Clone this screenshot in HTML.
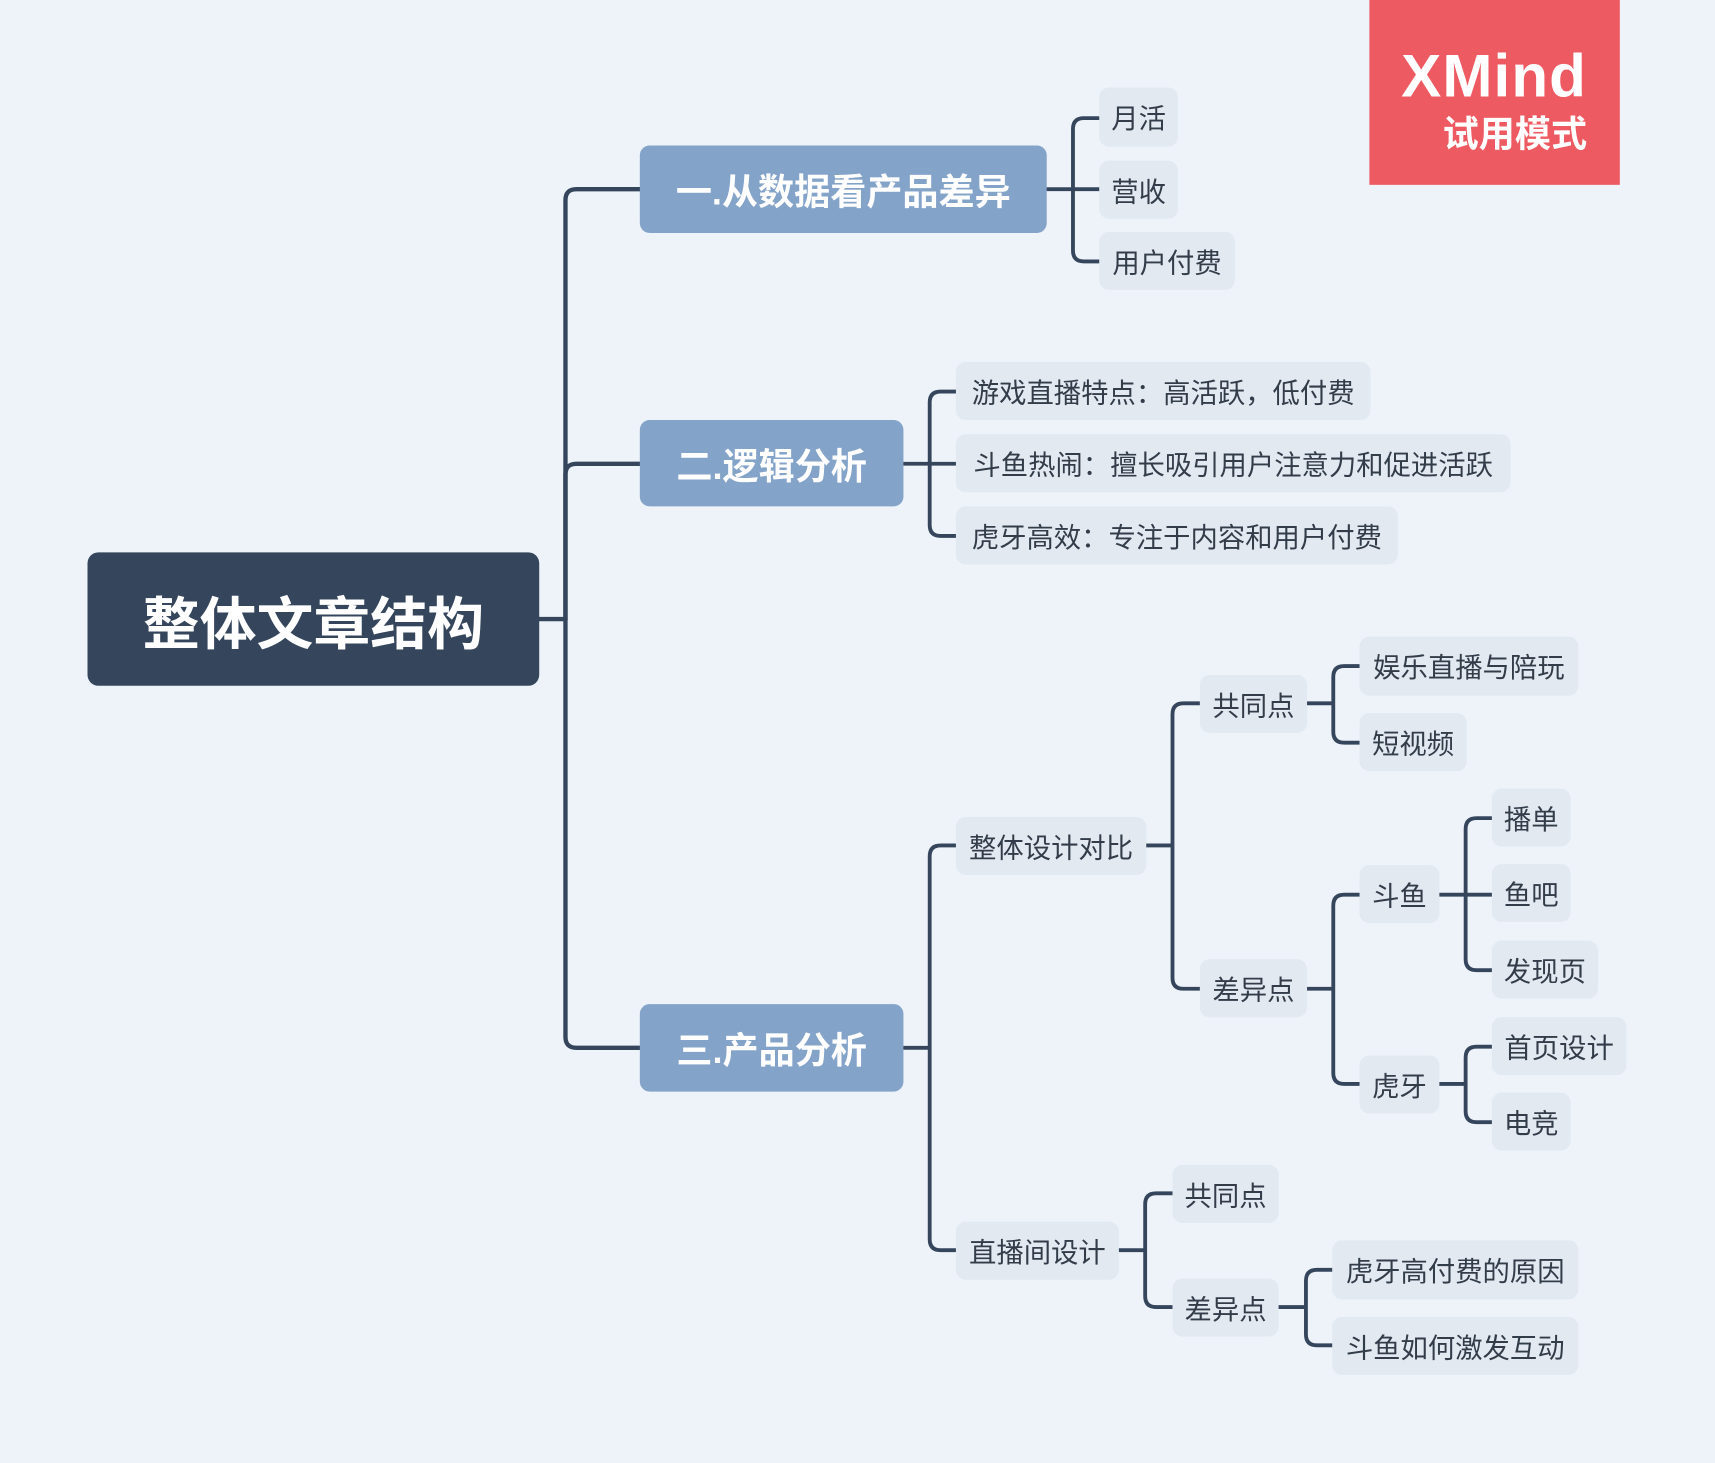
<!DOCTYPE html>
<html><head><meta charset="utf-8"><style>
html,body{margin:0;padding:0;background:#edf3f9;}
#c{position:absolute;left:0;top:0;width:1568px;height:1338px;transform:scale(1.09375);transform-origin:0 0;font-family:"Liberation Sans","Noto Sans CJK SC",sans-serif;}
.n{position:absolute;display:flex;align-items:center;justify-content:center;box-sizing:border-box;white-space:nowrap;}
.s{background:#e2e9f1;border-radius:9px;color:#333d4a;font-size:25px;}
.m{background:#84a3c9;border-radius:9px;color:#fff;font-size:33px;font-weight:bold;}
svg{position:absolute;left:0;top:0;}
</style></head><body><div id="c">
<svg width="1568" height="1338" fill="none" stroke="#35465c" stroke-width="3.5" stroke-linecap="round">
<g stroke-width="4">
<path d="M493,566 H517"/>
<path d="M517,566 V183 Q517,173 527,173 H585"/>
<path d="M517,566 V434 Q517,424 527,424 H585"/>
<path d="M517,566 V948 Q517,958 527,958 H585"/>
</g>
<path d="M957,173 H1005 M981,173 V118 Q981,108 991,108 H1005 M981,173 V229 Q981,239 991,239 H1005"/>
<path d="M826,424 H874 M850,424 V368 Q850,358 860,358 H874 M850,424 V480 Q850,490 860,490 H874"/>
<path d="M826,958 H850 M850,958 V783 Q850,773 860,773 H874 M850,958 V1133 Q850,1143 860,1143 H874"/>
<path d="M1048,773 H1072 M1072,773 V653 Q1072,643 1082,643 H1097 M1072,773 V894 Q1072,904 1082,904 H1097"/>
<path d="M1195,643 H1219 M1219,643 V619 Q1219,609 1229,609 H1243 M1219,643 V669 Q1219,679 1229,679 H1243"/>
<path d="M1195,904 H1219 M1219,904 V828 Q1219,818 1229,818 H1243 M1219,904 V981 Q1219,991 1229,991 H1243"/>
<path d="M1316,818 H1364 M1340,818 V758 Q1340,748 1350,748 H1364 M1340,818 V877 Q1340,887 1350,887 H1364"/>
<path d="M1316,991 H1340 M1340,991 V967 Q1340,957 1350,957 H1364 M1340,991 V1016 Q1340,1026 1350,1026 H1364"/>
<path d="M1023,1143 H1047 M1047,1143 V1101 Q1047,1091 1057,1091 H1072 M1047,1143 V1185 Q1047,1195 1057,1195 H1072"/>
<path d="M1169,1195 H1194 M1194,1195 V1171 Q1194,1161 1204,1161 H1218 M1194,1195 V1220 Q1194,1230 1204,1230 H1218"/>
</svg>

<div style="position:absolute;left:1252px;top:0;width:229px;height:169px;background:#ee5a62;color:#fff;">
<div style="position:absolute;right:30px;top:38px;font-size:55px;font-weight:bold;line-height:62px;letter-spacing:1px;">XMind</div>
<div style="position:absolute;right:30px;top:103px;font-size:33px;font-weight:bold;line-height:40px;">试用模式</div>
</div>

<div class="n" style="left:80px;top:505px;width:413px;height:122px;background:#35465c;border-radius:10px;color:#fff;font-size:52px;font-weight:bold;">整体文章结构</div>

<div class="n m" style="left:585px;top:133px;width:372px;height:80px;">一.从数据看产品差异</div>
<div class="n m" style="left:585px;top:384px;width:241px;height:79px;">二.逻辑分析</div>
<div class="n m" style="left:585px;top:918px;width:241px;height:80px;">三.产品分析</div>

<div class="n s" style="left:1005px;top:80px;width:72px;height:54px;">月活</div>
<div class="n s" style="left:1005px;top:147px;width:72px;height:53px;">营收</div>
<div class="n s" style="left:1005px;top:212px;width:124px;height:53px;">用户付费</div>

<div class="n s" style="left:874px;top:331px;width:379px;height:53px;">游戏直播特点：高活跃，低付费</div>
<div class="n s" style="left:874px;top:397px;width:507px;height:53px;">斗鱼热闹：擅长吸引用户注意力和促进活跃</div>
<div class="n s" style="left:874px;top:463px;width:404px;height:53px;">虎牙高效：专注于内容和用户付费</div>

<div class="n s" style="left:874px;top:747px;width:174px;height:53px;">整体设计对比</div>
<div class="n s" style="left:1097px;top:617px;width:98px;height:53px;">共同点</div>
<div class="n s" style="left:1243px;top:582px;width:200px;height:54px;">娱乐直播与陪玩</div>
<div class="n s" style="left:1243px;top:652px;width:98px;height:53px;">短视频</div>
<div class="n s" style="left:1097px;top:877px;width:98px;height:53px;">差异点</div>
<div class="n s" style="left:1243px;top:791px;width:73px;height:53px;">斗鱼</div>
<div class="n s" style="left:1364px;top:721px;width:72px;height:53px;">播单</div>
<div class="n s" style="left:1364px;top:790px;width:72px;height:53px;">鱼吧</div>
<div class="n s" style="left:1364px;top:860px;width:97px;height:53px;">发现页</div>
<div class="n s" style="left:1243px;top:965px;width:73px;height:53px;">虎牙</div>
<div class="n s" style="left:1364px;top:930px;width:123px;height:53px;">首页设计</div>
<div class="n s" style="left:1364px;top:999px;width:72px;height:53px;">电竞</div>

<div class="n s" style="left:874px;top:1117px;width:149px;height:53px;">直播间设计</div>
<div class="n s" style="left:1072px;top:1065px;width:97px;height:53px;">共同点</div>
<div class="n s" style="left:1072px;top:1169px;width:97px;height:53px;">差异点</div>
<div class="n s" style="left:1218px;top:1134px;width:225px;height:54px;">虎牙高付费的原因</div>
<div class="n s" style="left:1218px;top:1204px;width:225px;height:53px;">斗鱼如何激发互动</div>
</div></body></html>
